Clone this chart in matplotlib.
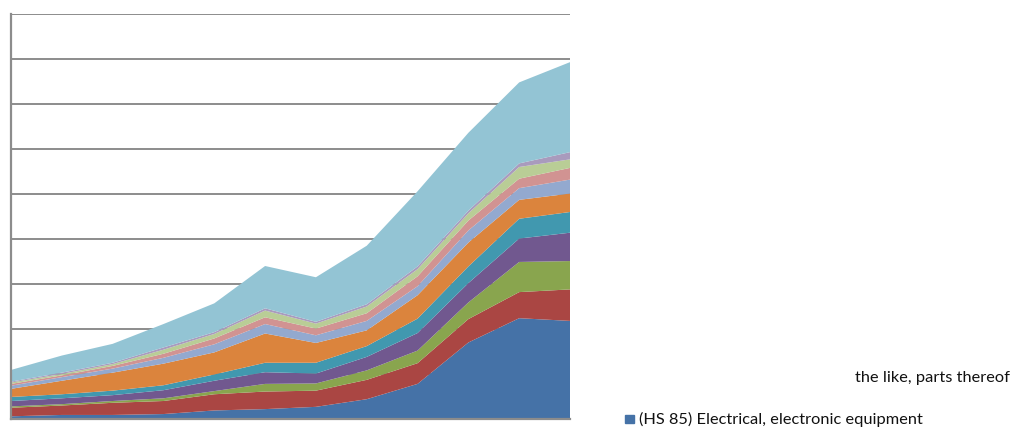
import numpy as np
import matplotlib.pyplot as plt
from matplotlib.patches import Rectangle

# twelve periods along the x axis (no tick labels shown on the chart)
periods = list(range(12))

# stacked series, bottom to top
hs85 = [0.6, 0.9, 0.9, 1.1, 1.9, 2.2, 2.7, 4.4, 7.8, 17.0, 22.4, 21.8]
s2 = [1.9, 2.1, 2.7, 2.9, 3.6, 3.9, 3.6, 4.3, 4.6, 5.2, 5.8, 7.0]
s3 = [0.3, 0.3, 0.4, 0.6, 0.7, 1.7, 1.6, 2.1, 2.8, 3.7, 6.7, 6.3]
s4 = [1.2, 1.3, 1.3, 1.8, 2.3, 2.6, 2.2, 3.0, 3.9, 4.3, 5.2, 6.3]
s5 = [0.9, 0.9, 1.0, 1.1, 1.4, 2.1, 2.4, 2.4, 3.2, 3.7, 4.4, 4.6]
s6 = [1.8, 3.0, 4.0, 4.8, 4.9, 6.5, 4.4, 3.5, 5.2, 5.3, 4.2, 4.1]
s7 = [0.7, 0.8, 0.9, 1.3, 1.8, 2.1, 1.7, 2.1, 2.0, 2.7, 2.6, 3.1]
s8 = [0.4, 0.4, 0.6, 0.9, 1.3, 1.5, 1.5, 1.7, 2.2, 2.2, 2.1, 2.6]
s9 = [0.3, 0.3, 0.4, 0.9, 1.0, 1.5, 1.1, 1.5, 1.6, 1.6, 2.6, 1.9]
s10 = [0.2, 0.3, 0.3, 0.5, 0.4, 0.5, 0.4, 0.5, 0.6, 0.6, 0.8, 1.6]
other = [2.6, 3.8, 4.2, 5.2, 6.4, 9.4, 9.9, 13.0, 16.7, 17.3, 18.0, 20.0]

series = [hs85, s2, s3, s4, s5, s6, s7, s8, s9, s10, other]
colors = ['#4572A7', '#AA4643', '#89A54E', '#71588F', '#4198AF', '#DB843D',
          '#93A9CF', '#D19392', '#B9CD96', '#A99BBD', '#93C4D4']

legend_tail = "the like, parts thereof"
legend_hs85 = "(HS 85) Electrical, electronic equipment"

fig = plt.figure(figsize=(10.17, 4.28), dpi=100)
ax = fig.add_axes([11 / 1017, 9 / 428, 559 / 1017, 405 / 428])

ax.stackplot(periods, *series, colors=colors, lw=0)

ax.set_xlim(0, 11)
ax.set_ylim(0, 90)
ax.set_yticks(np.arange(0, 91, 10))
ax.set_xticks([])
ax.tick_params(left=False, labelleft=False)
ax.set_axisbelow(True)
ax.grid(axis='y', color='#8c8c8c', lw=1.4)
for side in ['top', 'right']:
    ax.spines[side].set_visible(False)
for side in ['left', 'bottom']:
    ax.spines[side].set_color('#8c8c8c')
    ax.spines[side].set_linewidth(1.6)

# legend, mostly clipped in the original
fig.text(1010 / 1017, 1 - 378 / 428, legend_tail, family='Lato', fontsize=11.8,
         ha='right', va='center', color='#111111')
fig.patches.append(Rectangle((625 / 1017, 1 - 423 / 428), 9 / 1017, 8 / 428,
                             transform=fig.transFigure, color='#4572A7'))
fig.text(639 / 1017, 1 - 419 / 428, legend_hs85, family='Lato', fontsize=11.8,
         ha='left', va='center', color='#111111')

fig.savefig('out.png', dpi=100)
